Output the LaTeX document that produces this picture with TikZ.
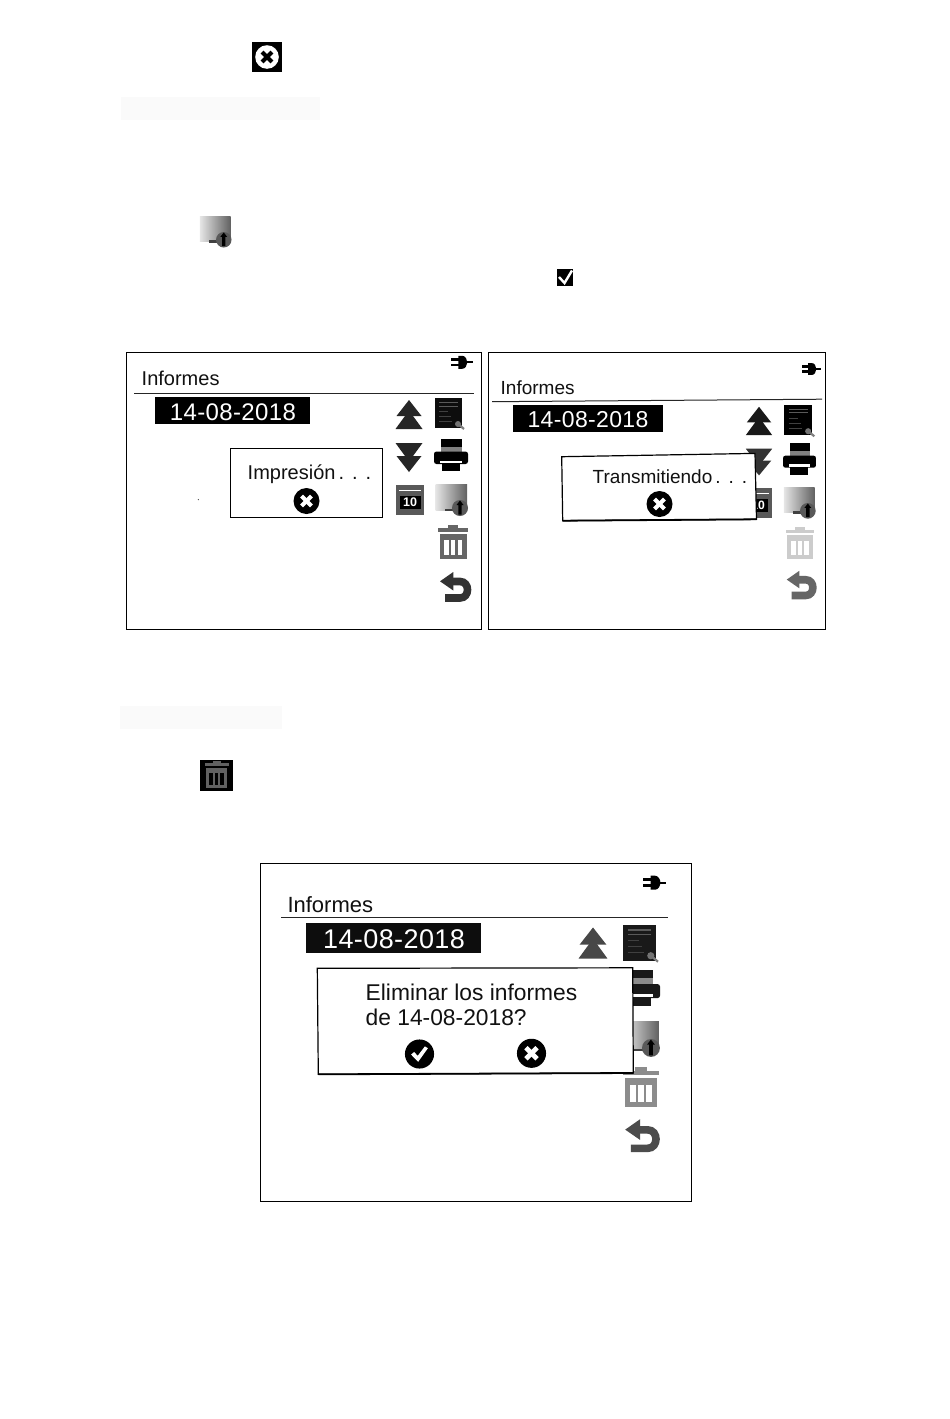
\documentclass[tikz,border=0pt]{standalone}
\usepackage{fontspec}
\setmainfont{Liberation Sans}
\colorlet{iconcol}{black}
\colorlet{slotcol}{white}
\definecolor{ink}{HTML}{111111}
\newcommand{\fsz}[1]{\fontsize{#1}{#1}\selectfont}
\tikzset{
  ic/.code={\colorlet{iconcol}{#1}},
  slot/.code={\colorlet{slotcol}{#1}},
  frameline/.style={draw=black,line width=0.9pt,fill=white},
  title/.style={anchor=base west,inner sep=0pt,text=ink},
  datetext/.style={inner sep=0pt,text=white,anchor=base},
  dlgline/.style={draw=black,line width=1.2pt,fill=white},
  rule/.style={draw=black!85,line width=1pt},
  band/.style={fill=black!2,draw=none},
  xcirc/.pic={
    \fill[black] (0,0) circle (13);
    \fill[white,rotate=45] (-7,-2.1) rectangle (7,2.1);
    \fill[white,rotate=-45] (-7,-2.1) rectangle (7,2.1);
  },
  checkcirc/.pic={
    \fill[black] (0,0) circle (13);
    \fill[white] (-7.5,0.5) -- (-4.8,-1.8) -- (-1.6,1.6) -- (4.8,-6.8) -- (7.5,-5.2) -- (-1.2,7) -- cycle;
  },
  plug/.pic={
    \fill[iconcol] (-11,-4) rectangle (-2,-1.2);
    \fill[iconcol] (-11,1.2) rectangle (-2,4);
    \fill[iconcol] (-4,-6.5) -- (0,-6.5) .. controls (3,-6.5) and (5,-3) .. (5,0) .. controls (5,3) and (3,6.5) .. (0,6.5) -- (-4,6.5) -- cycle;
    \fill[iconcol] (4,-1) rectangle (10.5,1);
  },
  dblarrow/.pic={
    \fill[iconcol] (0,-4) -- (13.5,14.5) -- (-13.5,14.5) -- cycle;
    \fill[iconcol] (0,-14.5) -- (12.5,1.5) -- (-12.5,1.5) -- cycle;
  },
  report/.pic={
    \fill[iconcol] (-14.5,-15) rectangle (13,15);
    \fill[black!65] (-10,-11) rectangle (9,-9.7);
    \fill[black!65] (-10,-7.5) rectangle (9,-6.4);
    \fill[black!75] (-10,-2) rectangle (-1,-1.2);
    \fill[black!75] (-10,3) rectangle (2,3.8);
    \fill[black!75] (-10,8) rectangle (3,8.8);
    \draw[black!50,line width=2.2pt] (8,10) -- (15,16);
    \fill[black!55] (9,11) circle (3);
  },
  printer/.pic={
    \fill[iconcol] (-10,-16) rectangle (11,-8.5);
    \fill[iconcol!50] (-10,-8.5) rectangle (11,-3.5);
    \fill[iconcol,rounded corners=2.5pt] (-17,-3.5) rectangle (17,9);
    \fill[white] (-11,5.5) rectangle (11,8);
    \fill[iconcol] (-9.5,8) rectangle (9,16);
  },
  monitor/.pic={
    \shade[left color=white!90!black,right color=black!62] (-16.5,-15.5) rectangle (15,10);
    \fill[black!75] (-7,8.5) rectangle (3,11);
    \fill[black!65] (8,8) circle (8);
    \fill[black] (8,0.5) -- (11.5,5) -- (9.7,5) -- (9.7,14.5) -- (6.3,14.5) -- (6.3,5) -- (4.5,5) -- cycle;
  },
  calendar/.pic={
    \fill[black!65] (-14,-15) rectangle (14,15);
    \fill[white] (-11,-10.5) rectangle (11,-8.8);
    \fill[black] (-10.5,-4) rectangle (10.5,9);
    \node[transform shape,inner sep=0pt,text=white] (calnum) at (0,2.5) {\fsz{12.5}\textbf{10}};
  },
  trashicon/.pic={
    \fill[iconcol] (-5,-16.7) rectangle (5,-14);
    \fill[iconcol] (-15,-14) rectangle (15,-10.5);
    \fill[iconcol] (-13.5,-8) rectangle (13.5,17);
    \fill[slotcol] (-9.3,-2) rectangle (-4.5,13);
    \fill[slotcol] (-2.4,-2) rectangle (2.4,13);
    \fill[slotcol] (4.5,-2) rectangle (9.3,13);
  },
  backarrow/.pic={
    \fill[iconcol] (-15,-5.7) -- (-1.7,-15) -- (-1.7,3.5) -- cycle;
    \draw[iconcol,line width=7.6pt] (-3,-5.5) -- (5,-5.5) .. controls (15,-5.5) and (15,11) .. (5,11) -- (-10,11);
  },
}
\begin{document}
\begin{tikzpicture}[x=1pt,y=-1pt]
\path[use as bounding box,fill=white] (0,0) rectangle (950,1419);

% top icons and bands
\fill[black] (252,42) rectangle (282,72);
\fill[white] (267,57) circle (11.8);
\fill[black,rotate around={45:(267,57)}] (260,55) rectangle (274,59);
\fill[black,rotate around={-45:(267,57)}] (260,55) rectangle (274,59);
\fill[band] (121,97.3) rectangle (320,120);
\pic[scale=0.97] at (216,232) {monitor};
\fill[black] (556.7,268.7) rectangle (573.3,286);
\draw[white,line width=2.4pt] (559,277) -- (564.5,283) -- (572,270.5);
\fill[band] (120,706) rectangle (281.7,729);
\fill[black] (200,760) rectangle (232.7,791);
\pic[scale=0.8,ic=black!62,slot=black] at (216.5,774.5) {trashicon};

% screen 1
\draw[frameline] (126.7,352.3) rectangle (481.7,629.3);
\pic[ic=black] at (462.3,362.3) {plug};
\node[title] (t1) at (141.5,385) {\fsz{20}Informes};
\draw[rule] (134,393.3) -- (474,393.3);
\fill[black] (155,397.3) rectangle (310,424);
\node[datetext] (d1) at (233,420) {\fsz{24}\addfontfeature{LetterSpace=1.5}14-08-2018};
\pic[ic=black!85] at (409,414.5) {dblarrow};
\pic[ic=black!85,yscale=-1] at (409,457.5) {dblarrow};
\pic at (410,500) {calendar};
\pic[ic=black!95] at (449,413) {report};
\pic[ic=black] at (451,455) {printer};
\pic at (452,500) {monitor};
\pic[ic=black!60] at (453,542) {trashicon};
\pic[ic=black!80] at (455,587) {backarrow};
\draw[dlgline] (230.7,448.5) rectangle (382.3,517.3);
\node[title] (m1) at (247.5,479) {\fsz{20}Impresión\hspace{3pt}.\hspace{8pt}.\hspace{8pt}.};
\pic at (306.5,501) {xcirc};
\fill[black!70] (198.4,499.6) circle (0.7);

% screen 2
\draw[frameline] (488.3,352.3) rectangle (825.7,629.3);
\pic[scale=0.92,ic=black] at (811.7,369) {plug};
\node[title] (t2) at (500.5,394) {\fsz{19}Informes};
\draw[rule] (492,401.7) -- (822,399.2);
\fill[black] (512.7,405) rectangle (663.3,431.7);
\node[datetext] (d2) at (588,427.5) {\fsz{23}\addfontfeature{LetterSpace=1.5}14-08-2018};
\pic[ic=black!90,scale=0.98] at (759,421) {dblarrow};
\pic[ic=black!80,yscale=-0.92,xscale=0.98] at (759,462) {dblarrow};
\pic[scale=0.97] at (758,503) {calendar};
\pic[ic=black,scale=1.02] at (799,420) {report};
\pic[ic=black,scale=0.97] at (799.5,459) {printer};
\pic[scale=0.98] at (800,503) {monitor};
\pic[ic=black!20,scale=0.95] at (800,543) {trashicon};
\pic[ic=black!60,scale=0.95] at (801,585) {backarrow};
\draw[dlgline] (561.7,456.7) -- (755,453.4) -- (756.5,519.3) -- (562.7,520.7) -- cycle;
\draw[black,line width=1.8pt] (562.7,520.7) -- (756.5,519.3);
\node[title] (m2) at (592.5,483.5) {\fsz{19}Transmitiendo\hspace{3pt}.\hspace{8pt}.\hspace{8pt}.};
\pic at (659.5,504) {xcirc};

% screen 3
\draw[frameline] (260.7,863.7) rectangle (691.7,1201.3);
\pic[scale=1.08,ic=black] at (655,882.7) {plug};
\node[title] (t3) at (287.3,912.5) {\fsz{22}Informes};
\draw[rule] (281,917.7) -- (668,917.7);
\fill[black!95] (305.7,923.3) rectangle (481,952.7);
\node[datetext] (d3) at (394,948.5) {\fsz{27}\addfontfeature{LetterSpace=1.5}14-08-2018};
\pic[ic=black!72,scale=1.07] at (593,943) {dblarrow};
\pic[ic=black!90,scale=1.2] at (640,942.5) {report};
\pic[ic=black!90,scale=1.12] at (641,988) {printer};
\pic[scale=1.12] at (642,1039) {monitor};
\pic[ic=black!45,scale=1.17] at (641,1087) {trashicon};
\pic[ic=black!70,scale=1.12] at (642,1136) {backarrow};
\draw[dlgline] (317.3,968.3) -- (632.7,967.8) -- (633.3,1073) -- (318.3,1074.3) -- cycle;
\draw[black,line width=1.8pt] (318.3,1074.3) -- (633.3,1073);
\node[title] (m3a) at (365.5,1000.8) {\fsz{22.8}Eliminar los informes};
\node[title] (m3b) at (365.5,1025.8) {\fsz{22.8}de 14-08-2018?};
\pic[scale=1.12] at (419.5,1054) {checkcirc};
\pic[scale=1.12] at (531.5,1053.3) {xcirc};
\end{tikzpicture}
\end{document}
